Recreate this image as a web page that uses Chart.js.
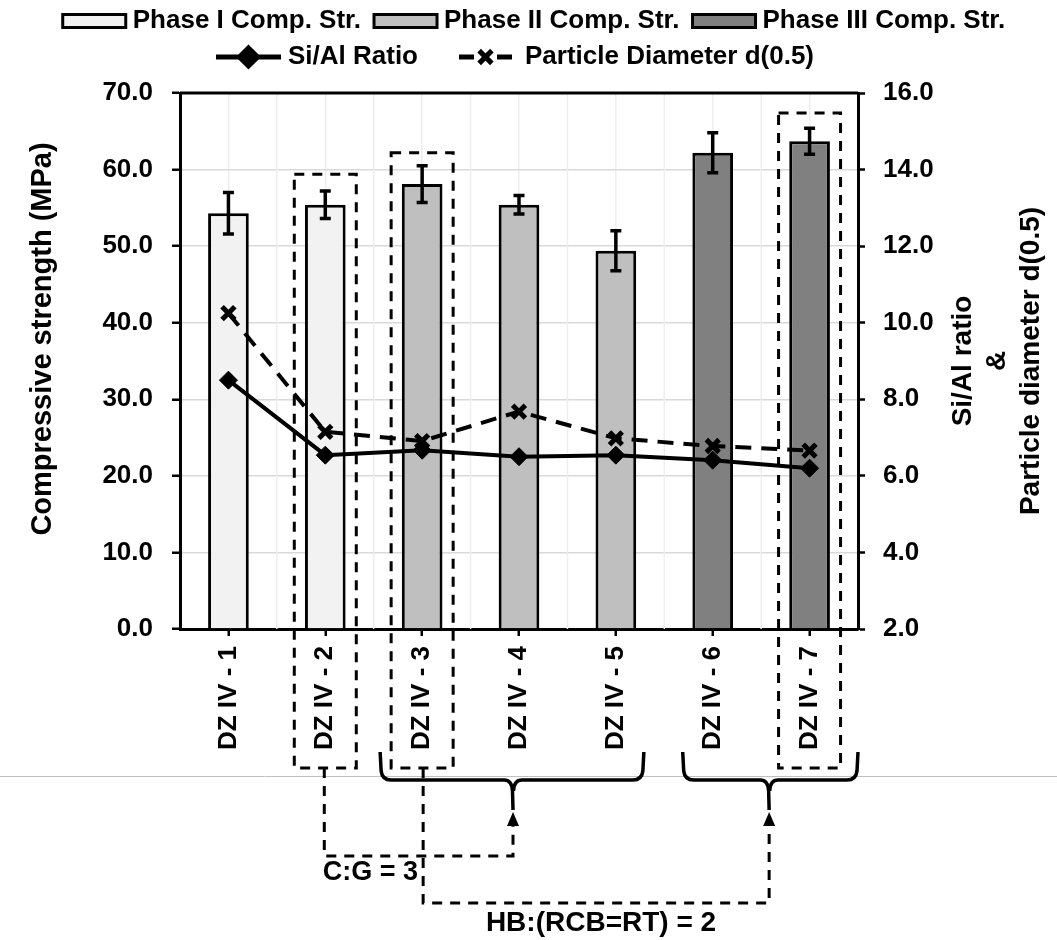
<!DOCTYPE html>
<html><head><meta charset="utf-8">
<script src="https://cdn.jsdelivr.net/npm/chart.js@4/dist/chart.umd.min.js"></script>
<style>html,body{margin:0;padding:0;background:#fff;}#wrap{width:1057px;height:940px;}</style>
</head><body><div id="wrap"><canvas id="c" width="1057" height="940"></canvas></div>
<script>
const categories = ['DZ IV - 1','DZ IV - 2','DZ IV - 3','DZ IV - 4','DZ IV - 5','DZ IV - 6','DZ IV - 7'];
const phase1Strength = [54.3, 55.4, null, null, null, null, null];
const phase2Strength = [null, null, 58.1, 55.4, 49.4, null, null];
const phase3Strength = [null, null, null, null, null, 62.2, 63.7];
const strengthError = [2.7, 1.8, 2.4, 1.2, 2.6, 2.6, 1.7];
const siAlRatio = [8.5, 6.54, 6.67, 6.5, 6.54, 6.41, 6.2];
const particleDiameter = [10.25, 7.15, 6.91, 7.68, 6.98, 6.78, 6.66];
const seriesLabels = ['Phase I Comp. Str.','Phase II Comp. Str.','Phase III Comp. Str.','Si/Al Ratio','Particle Diameter d(0.5)'];
const leftAxisTitle = 'Compressive strength (MPa)';
const rightAxisTitle = ['Si/Al ratio','&','Particle diameter d(0.5)'];
const boxedSamples = [1, 2, 6];
const boxTopValues = [59.4, 62.2, 67.4];
const groupLabels = ['C:G = 3', 'HB:(RCB=RT) = 2'];

const FONT = "'Liberation Sans', Arial, sans-serif";
const fnt = (s) => 'bold ' + s + 'px ' + FONT;

function dashedLine(ctx, pts){
  ctx.beginPath(); ctx.moveTo(pts[0][0], pts[0][1]);
  for (let i=1;i<pts.length;i++) ctx.lineTo(pts[i][0], pts[i][1]);
  ctx.stroke();
}
function brace(ctx, x1, x2, xm, yTop, yLine, yTip){
  const r = 9;
  ctx.beginPath();
  ctx.moveTo(x1, yTop);
  ctx.lineTo(x1+1, yLine-r);
  ctx.quadraticCurveTo(x1+2, yLine, x1+r+2, yLine);
  ctx.lineTo(xm-r, yLine);
  ctx.quadraticCurveTo(xm-1, yLine, xm-0.5, yLine+r+2);
  ctx.lineTo(xm, yTip);
  ctx.moveTo(x2, yTop);
  ctx.lineTo(x2-1, yLine-r);
  ctx.quadraticCurveTo(x2-2, yLine, x2-r-2, yLine);
  ctx.lineTo(xm+r, yLine);
  ctx.quadraticCurveTo(xm+1, yLine, xm+0.5, yLine+r+2);
  ctx.stroke();
}
function arrowUp(ctx, x, yTip){
  ctx.beginPath(); ctx.moveTo(x, yTip); ctx.lineTo(x-6, yTip+14); ctx.lineTo(x+6, yTip+14); ctx.closePath(); ctx.fill();
}

const annot = {
  id: 'annot',
  beforeDatasetsDraw(chart){
    const {ctx, chartArea:a, scales:{x}} = chart;
    const half = (x.getPixelForValue(1)-x.getPixelForValue(0))/2;
    ctx.save(); ctx.strokeStyle = '#eeeeee'; ctx.lineWidth = 1.5;
    for (let i=0;i<categories.length-1;i++){
      const px = x.getPixelForValue(i)+half;
      ctx.beginPath(); ctx.moveTo(px, a.top); ctx.lineTo(px, a.bottom); ctx.stroke();
    }
    ctx.restore();
  },
  afterDatasetsDraw(chart){
    const {ctx, scales:{x, y}} = chart;
    ctx.save(); ctx.strokeStyle = '#000'; ctx.lineWidth = 3.5;
    for (let i=0;i<categories.length;i++){
      const v = phase1Strength[i] ?? phase2Strength[i] ?? phase3Strength[i];
      if (v == null) continue;
      const px = x.getPixelForValue(i);
      const y1 = y.getPixelForValue(v+strengthError[i]), y2 = y.getPixelForValue(v-strengthError[i]);
      ctx.beginPath();
      ctx.moveTo(px, y1); ctx.lineTo(px, y2);
      ctx.moveTo(px-5.5, y1); ctx.lineTo(px+5.5, y1);
      ctx.moveTo(px-5.5, y2); ctx.lineTo(px+5.5, y2);
      ctx.stroke();
    }
    ctx.restore();
  },
  afterDraw(chart){
    const {ctx, chartArea:a, scales:{x, y}} = chart;
    const ds = chart.data.datasets;
    ctx.save();
    // top frame
    ctx.strokeStyle = '#000'; ctx.lineWidth = 3;
    ctx.beginPath(); ctx.moveTo(a.left, a.top); ctx.lineTo(a.right, a.top); ctx.stroke();

    // legend
    ctx.font = fnt(26); ctx.textBaseline = 'middle'; ctx.textAlign = 'left'; ctx.fillStyle = '#000';
    const row1 = [2,3,4].map(i=>ds[i]);
    const boxW = 63, boxH = 13, g1 = 7, g2 = 13;
    let tot = 0; row1.forEach((d,k)=>{ tot += boxW + g1 + ctx.measureText(d.label).width + (k<2?g2:0); });
    let cx = 534 - tot/2;
    row1.forEach(d=>{
      ctx.fillStyle = d.backgroundColor; ctx.fillRect(cx, 21-boxH/2, boxW, boxH);
      ctx.strokeStyle = '#000'; ctx.lineWidth = 3; ctx.strokeRect(cx, 21-boxH/2, boxW, boxH);
      ctx.fillStyle = '#000'; ctx.fillText(d.label, cx+boxW+g1, 21);
      cx += boxW + g1 + ctx.measureText(d.label).width + g2;
    });
    const row2 = [0,1].map(i=>ds[i]);
    const symW = 65, g3 = 35;
    tot = 0; row2.forEach((d,k)=>{ tot += symW + g1 + ctx.measureText(d.label).width + (k<1?g3:0); });
    cx = 515 - tot/2;
    row2.forEach(d=>{
      const ym = 57;
      ctx.strokeStyle = '#000'; ctx.lineWidth = 5; ctx.setLineDash([]);
      if (d.borderDash) {
        ctx.beginPath(); ctx.moveTo(cx+6, ym); ctx.lineTo(cx+21, ym); ctx.moveTo(cx+symW-21, ym); ctx.lineTo(cx+symW-6, ym); ctx.stroke();
      } else {
        ctx.beginPath(); ctx.moveTo(cx, ym); ctx.lineTo(cx+symW, ym); ctx.stroke();
      }
      Chart.helpers.drawPoint(ctx, {pointStyle: d.pointStyle, radius: d.pointRadius, borderWidth: d.pointBorderWidth, rotation:0}, cx+symW/2, ym);
      ctx.fillStyle = '#000';
      ctx.fillText(d.label, cx+symW+g1, ym);
      cx += symW + g1 + ctx.measureText(d.label).width + g3;
    });

    // axis titles
    ctx.font = fnt(29); ctx.textAlign = 'center'; ctx.textBaseline = 'middle'; ctx.fillStyle = '#000';
    ctx.save(); ctx.translate(a.left-137, (a.top+a.bottom)/2-22); ctx.rotate(-Math.PI/2); ctx.fillText(leftAxisTitle, 0, 0); ctx.restore();
    ctx.font = fnt(28);
    const cy = (a.top+a.bottom)/2;
    [105,139,173].forEach((off,k)=>{
      ctx.save(); ctx.translate(a.right+off, cy); ctx.rotate(-Math.PI/2); ctx.fillText(rightAxisTitle[k], 0, 0); ctx.restore();
    });

    // page separator line
    ctx.strokeStyle = '#c0c0c0'; ctx.lineWidth = 1;
    ctx.beginPath(); ctx.moveTo(0, a.bottom+147.5); ctx.lineTo(chart.width, a.bottom+147.5); ctx.stroke();

    // dashed boxes
    const boxBottom = a.bottom + 139;
    ctx.strokeStyle = '#000'; ctx.lineWidth = 3; ctx.setLineDash([10,8]);
    boxedSamples.forEach((idx,k)=>{
      const px = x.getPixelForValue(idx);
      const top = y.getPixelForValue(boxTopValues[k]);
      ctx.strokeRect(px-31, top, 62, boxBottom-top);
    });

    // braces
    ctx.setLineDash([]); ctx.lineWidth = 3.5;
    const yTop = a.bottom+123, yLine = a.bottom+151, yTip = a.bottom+181;
    const tip1 = x.getPixelForValue(3)-6, tip2 = (x.getPixelForValue(5)+x.getPixelForValue(6))/2+8;
    brace(ctx, x.getPixelForValue(2)-42, x.getPixelForValue(4)+28, tip1, yTop, yLine, yTip);
    brace(ctx, x.getPixelForValue(5)-30, a.right, tip2, yTop, yLine, yTip);
    ctx.fillStyle = '#000';
    arrowUp(ctx, tip1, yTip+2); arrowUp(ctx, tip2, yTip+2);

    // connectors
    ctx.lineWidth = 3; ctx.setLineDash([10,8]);
    const c1x = x.getPixelForValue(1)-1, c2x = x.getPixelForValue(2)+1;
    dashedLine(ctx, [[c1x, boxBottom],[c1x, a.bottom+227],[tip1, a.bottom+227],[tip1, yTip+16]]);
    dashedLine(ctx, [[c2x, boxBottom],[c2x, a.bottom+274],[tip2, a.bottom+274],[tip2, yTip+16]]);
    ctx.setLineDash([]);

    // group labels
    ctx.textAlign = 'center'; ctx.textBaseline = 'middle';
    ctx.font = fnt(27); ctx.fillText(groupLabels[0], x.getPixelForValue(1)+45, a.bottom+244);
    ctx.font = fnt(28); ctx.fillText(groupLabels[1], x.getPixelForValue(3)+82, a.bottom+294);
    ctx.restore();
  }
};

const tickFont = {family: FONT, size: 26, weight: 'bold'};
new Chart(document.getElementById('c'), {
  data: {
    labels: categories,
    datasets: [
      {type:'line', label: seriesLabels[3], data: siAlRatio, yAxisID:'y2', borderColor:'#000', borderWidth:4,
       pointStyle:'rectRot', pointRadius:9, pointBackgroundColor:'#000', pointBorderColor:'#000', pointBorderWidth:1, order:0},
      {type:'line', label: seriesLabels[4], data: particleDiameter, yAxisID:'y2', borderColor:'#000', borderWidth:4, borderDash:[16,10],
       pointStyle:'crossRot', pointRadius:9, pointBackgroundColor:'#000', pointBorderColor:'#000', pointBorderWidth:5, order:1},
      {type:'bar', label: seriesLabels[0], data: phase1Strength, yAxisID:'y', backgroundColor:'#f2f2f2', borderColor:'#000', borderWidth:3, grouped:false, barPercentage:0.42, categoryPercentage:1, order:2},
      {type:'bar', label: seriesLabels[1], data: phase2Strength, yAxisID:'y', backgroundColor:'#bfbfbf', borderColor:'#000', borderWidth:3, grouped:false, barPercentage:0.42, categoryPercentage:1, order:2},
      {type:'bar', label: seriesLabels[2], data: phase3Strength, yAxisID:'y', backgroundColor:'#808080', borderColor:'#000', borderWidth:3, grouped:false, barPercentage:0.42, categoryPercentage:1, order:2}
    ]
  },
  options: {
    responsive:false, animation:false, devicePixelRatio:1,
    layout:{padding:{top:93,left:0,right:0,bottom:0}},
    plugins:{legend:{display:false}, tooltip:{enabled:false}},
    scales:{
      x:{type:'category', offset:true,
         grid:{offset:false, color:'#eeeeee', lineWidth:1.5, tickColor:'#000', tickLength:7, tickWidth:2.5},
         border:{color:'#000', width:3},
         ticks:{minRotation:90, maxRotation:90, autoSkip:false, padding:10, color:'#000', font:tickFont},
         afterFit(s){ s.height = 311; }},
      y:{position:'left', min:0, max:70,
         ticks:{stepSize:10, padding:19, color:'#000', font:tickFont, callback:v=>Number(v).toFixed(1)},
         grid:{color:'#d9d9d9', lineWidth:1.5, tickColor:'#000', tickLength:8, tickWidth:2.5},
         border:{color:'#000', width:3},
         title:{display:false, text:leftAxisTitle},
         afterFit(s){ s.width = 180; }},
      y2:{position:'right', min:2, max:16,
         ticks:{stepSize:2, padding:18, color:'#000', font:tickFont, callback:v=>Number(v).toFixed(1)},
         grid:{drawOnChartArea:false, tickColor:'#000', tickLength:7, tickWidth:2.5},
         border:{color:'#000', width:3},
         afterFit(s){ s.width = 199; }}
    }
  },
  plugins:[annot]
});
</script></body></html>
